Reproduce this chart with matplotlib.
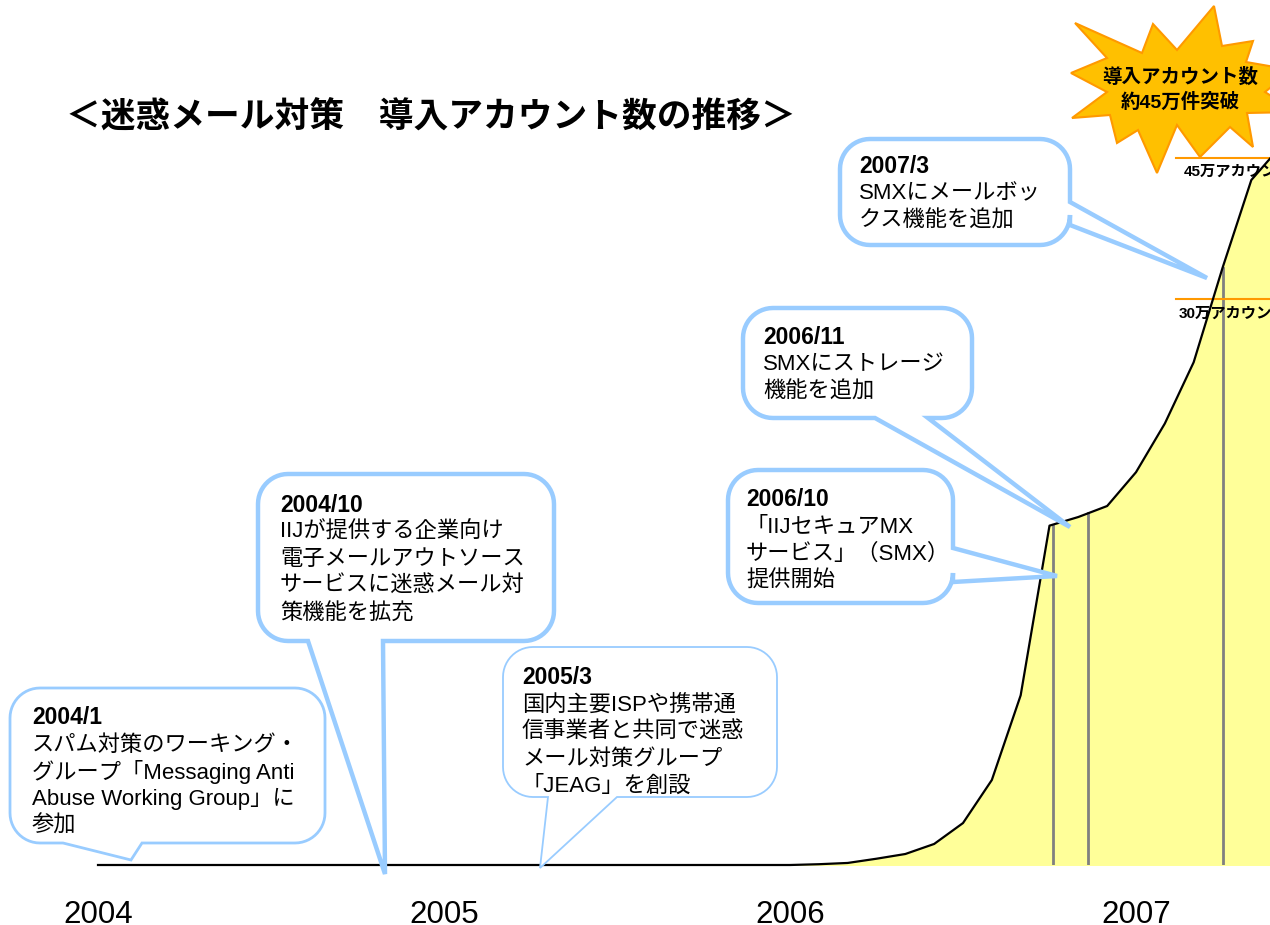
import numpy as np
import matplotlib
matplotlib.use("Agg")
import matplotlib.pyplot as plt
from matplotlib.patches import Polygon

plt.rcParams['font.family'] = ['Liberation Sans', 'Noto Sans CJK JP', 'DejaVu Sans']

# monthly account counts (万), Jan 2004 .. Jun 2007
months_2004 = [0] * 12
months_2005 = [0] * 12
months_2006 = [0, 0.05, 0.13, 0.4, 0.7, 1.34, 2.67, 5.41, 10.8, 21.6, 22.15, 22.85]
months_2007 = [25.0, 28.1, 32.0, 38.0, 43.6, 45.7]
accounts = months_2004 + months_2005 + months_2006 + months_2007
dates = 2004 + np.arange(len(accounts)) / 12

year_ticks = [2004, 2005, 2006, 2007]
event_x = [2006.76, 2006.86, 2007.25]
threshold_levels = [45.0, 36.0]
threshold_labels = ['45万アカウント', '30万アカウント']
threshold_label_x = [2007.137, 2007.122]
threshold_start = 2007.115

title = '＜迷惑メール対策　導入アカウント数の推移＞'
star_lines = ['導入アカウント数', '約45万件突破']

events = [
    ('2004/1', ['スパム対策のワーキング・', 'グループ「Messaging Anti',
                'Abuse Working Group」に', '参加']),
    ('2004/10', ['IIJが提供する企業向け', '電子メールアウトソース',
                 'サービスに迷惑メール対', '策機能を拡充']),
    ('2005/3', ['国内主要ISPや携帯通', '信事業者と共同で迷惑',
                'メール対策グループ', '「JEAG」を創設']),
    ('2006/10', ['「IIJセキュアMX', 'サービス」（SMX）', '提供開始']),
    ('2006/11', ['SMXにストレージ', '機能を追加']),
    ('2007/3', ['SMXにメールボッ', 'クス機能を追加']),
]

W, H = 1270, 925
fig = plt.figure(figsize=(12.7, 9.25), dpi=100)


def fx(x):
    return x / W


def fy(y):
    return 1 - y / H


# main axes: bottom edge on the baseline, full width
ax = fig.add_axes([0, 60 / H, 1, 865 / H])
ax.set_xlim(2004 - 98 / 346, 2004 + (W - 98) / 346)
ax.set_ylim(0, 865 / 15.711)
for s in ax.spines.values():
    s.set_visible(False)
ax.set_yticks([])
ax.set_xticks(year_ticks)
ax.set_xticklabels([str(y) for y in year_ticks], fontsize=22.5)
ax.tick_params(axis='x', length=0, pad=25)

ax.fill_between(dates, accounts, color='#FFFF99', zorder=1)
ax.plot(dates, accounts, color='black', lw=1.6, zorder=3, clip_on=False)

for x in event_x:
    ax.plot([x, x], [0, np.interp(x, dates, accounts)], color='#808080', lw=2, zorder=2)

for lvl, lab, lx in zip(threshold_levels, threshold_labels, threshold_label_x):
    ax.plot([threshold_start, 2008], [lvl, lvl], color='#FF9900', lw=1.5, zorder=2)
    ax.text(lx, lvl - 0.9, lab, fontsize=11, fontweight='bold',
            va='center', ha='left', zorder=4)

# starburst
star_px = [(1075, 23), (1142, 53), (1153, 24), (1177, 50), (1214, 6), (1222, 46),
           (1253, 41), (1246, 62), (1292, 70), (1265, 92), (1296, 112), (1247, 113),
           (1253, 147), (1230, 127), (1200, 157), (1177, 125), (1157, 173), (1138, 130),
           (1117, 143), (1110, 115), (1072, 118), (1107, 92), (1071, 73), (1107, 58)]
star = Polygon([(fx(x), fy(y)) for x, y in star_px], closed=True, transform=fig.transFigure,
               facecolor='#FFC000', edgecolor='#FF9900', lw=1.5, zorder=5)
fig.patches.append(star)
for i, line in enumerate(star_lines):
    fig.text(fx(1180), fy(77 + 25 * i), line, fontsize=14, fontweight='bold',
             ha='center', va='center', zorder=6)


def bubble(l, t, r, b, rad, side, base, tip):
    pts = []

    def arc(cx, cy, a0, a1):
        for a in np.linspace(a0, a1, 14):
            pts.append((cx + rad * np.cos(a), cy + rad * np.sin(a)))

    arc(l + rad, t + rad, np.pi, 1.5 * np.pi)
    arc(r - rad, t + rad, 1.5 * np.pi, 2 * np.pi)
    if side == 'right':
        pts.extend([(r, base[0]), tip, (r, base[1])])
    arc(r - rad, b - rad, 0, 0.5 * np.pi)
    if side == 'bottom':
        pts.extend([(base[0], b), tip, (base[1], b)])
    arc(l + rad, b - rad, 0.5 * np.pi, np.pi)
    return [(fx(x), fy(y)) for x, y in pts]


# box, tail, text layout for each event
layout = [
    dict(box=(10, 688, 325, 843), side='bottom', base=(142, 63), tip=(131, 860), lw=2.0,
         tx=32, ty=718),
    dict(box=(258, 474, 554, 641), side='bottom', base=(383, 308), tip=(385, 874), lw=3.2,
         tx=280, ty=505),
    dict(box=(503, 647, 777, 797), side='bottom', base=(617, 548), tip=(540, 868), lw=1.3,
         tx=522, ty=678),
    dict(box=(728, 470, 953, 603), side='right', base=(548, 582), tip=(1057, 576), lw=3.2,
         tx=746, ty=500),
    dict(box=(743, 308, 972, 418), side='bottom', base=(928, 875), tip=(1070, 527), lw=3.2,
         tx=763, ty=338),
    dict(box=(840, 139, 1070, 245), side='right', base=(202, 225), tip=(1207, 278), lw=3.2,
         tx=859, ty=167),
]

for (date, lines), lay in zip(events, layout):
    l, t, r, b = lay['box']
    poly = Polygon(bubble(l, t, r, b, 30, lay['side'], lay['base'], lay['tip']), closed=True,
                   transform=fig.transFigure, facecolor='white', edgecolor='#99CCFF',
                   lw=lay['lw'], joinstyle='miter', zorder=7)
    fig.patches.append(poly)
    fig.text(fx(lay['tx']), fy(lay['ty']), date, fontsize=16.5, fontweight='bold',
             ha='left', va='center', zorder=8)
    for i, line in enumerate(lines):
        fig.text(fx(lay['tx']), fy(lay['ty'] + 27 * (i + 1)), line, fontsize=16,
                 ha='left', va='center', zorder=8)

fig.text(fx(66), fy(117), title, fontsize=25, fontweight='bold', ha='left', va='center',
         family=['Noto Sans CJK JP', 'DejaVu Sans'])

fig.savefig('out.png', dpi=100, facecolor='white')
